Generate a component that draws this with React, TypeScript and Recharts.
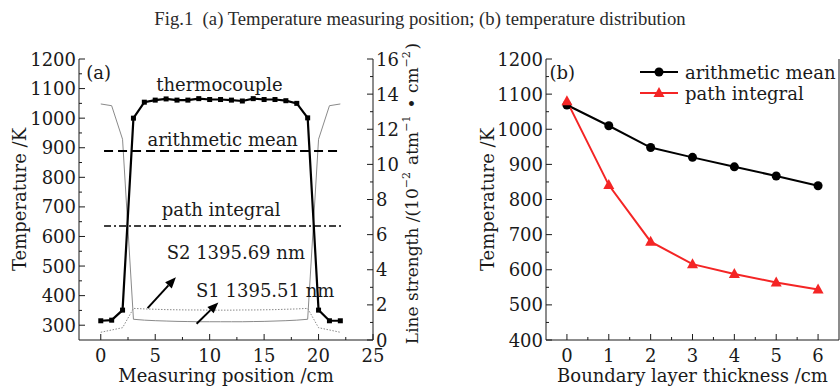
import { LineChart, Line, XAxis, YAxis, ReferenceLine, ReferenceDot } from 'recharts';

// ---- (a) temperature along the measuring path ----
const positionCm = [0, 1, 2, 3, 4, 5, 6, 7, 8, 9, 10, 11, 12, 13, 14, 15, 16, 17, 18, 19, 20, 21, 22];
const thermocouple = [315, 317, 351, 1000, 1054, 1061, 1065, 1061, 1061, 1066, 1063, 1063, 1061, 1058, 1066, 1063, 1063, 1059, 1050, 1001, 351, 315, 315];
const s1Strength = [13.44, 13.34, 11.43, 1.18, 1.13, 1.1, 1.08, 1.06, 1.05, 1.04, 1.04, 1.04, 1.04, 1.04, 1.05, 1.06, 1.08, 1.1, 1.13, 1.18, 11.43, 13.34, 13.44];
const s2Strength = [0.44, 0.57, 0.7, 1.8, 1.77, 1.75, 1.73, 1.72, 1.71, 1.71, 1.7, 1.7, 1.7, 1.71, 1.71, 1.72, 1.73, 1.75, 1.77, 1.8, 0.7, 0.57, 0.44];
const meanTempA = 889;
const pathTempA = 635;
const refLineRange = [0.3, 22.1];

const xTicksA = [0, 2.5, 5, 7.5, 10, 12.5, 15, 17.5, 20, 22.5, 25];
const xMajorA = [0, 5, 10, 15, 20, 25];
const tTicksA = [300, 350, 400, 450, 500, 550, 600, 650, 700, 750, 800, 850, 900, 950, 1000, 1050, 1100, 1150, 1200];
const tMajorA = [300, 400, 500, 600, 700, 800, 900, 1000, 1100, 1200];
const sTicksA = [0, 1, 2, 3, 4, 5, 6, 7, 8, 9, 10, 11, 12, 13, 14, 15, 16];
const sMajorA = [0, 2, 4, 6, 8, 10, 12, 14, 16];

// ---- (b) temperature vs boundary layer thickness ----
const thicknessCm = [0, 1, 2, 3, 4, 5, 6];
const arithmeticMean = [1069, 1010, 948, 920, 893, 867, 839];
const pathIntegral = [1080, 841, 680, 616, 588, 564, 544];

const xTicksB = [0, 0.5, 1, 1.5, 2, 2.5, 3, 3.5, 4, 4.5, 5, 5.5, 6];
const xMajorB = [0, 1, 2, 3, 4, 5, 6];
const tTicksB = [400, 450, 500, 550, 600, 650, 700, 750, 800, 850, 900, 950, 1000, 1050, 1100, 1150, 1200];
const tMajorB = [400, 500, 600, 700, 800, 900, 1000, 1100, 1200];

const dataA = positionCm.map((x, i) => ({ x, tc: thermocouple[i], s1: s1Strength[i], s2: s2Strength[i] }));
const dataB = thicknessCm.map((x, i) => ({ x, mean: arithmeticMean[i], path: pathIntegral[i] }));

const FONT = '"DejaVu Serif", serif';
const INK = '#1a1a1a';
const RED = '#f42525';
const GAP = 4;
const FS = 18;

function makeTick(side: 'bottom' | 'left' | 'right', majors: number[]) {
  return (props: any) => {
    const { x, y, payload } = props;
    const v = payload.value;
    const major = majors.includes(v);
    const len = major ? 6 : 3;
    if (side === 'bottom') {
      const ay = y - GAP;
      return (
        <g>
          <line x1={x} x2={x} y1={ay} y2={ay - len} stroke={INK} strokeWidth={1} />
          {major && (
            <text x={x} y={ay + 22} textAnchor="middle" fontSize={FS} fontFamily={FONT} fill={INK}>{v}</text>
          )}
        </g>
      );
    }
    if (side === 'left') {
      const ax = x + GAP;
      return (
        <g>
          <line x1={ax} x2={ax + len} y1={y} y2={y} stroke={INK} strokeWidth={1} />
          {major && (
            <text x={ax - 3} y={y + 6.5} textAnchor="end" fontSize={FS} fontFamily={FONT} fill={INK}>{v}</text>
          )}
        </g>
      );
    }
    const ax = x - GAP;
    return (
      <g>
        <line x1={ax} x2={ax - len} y1={y} y2={y} stroke={INK} strokeWidth={1} />
        {major && (
          <text x={ax + 3} y={y + 6.5} textAnchor="start" fontSize={FS} fontFamily={FONT} fill={INK}>{v}</text>
        )}
      </g>
    );
  };
}

const xLabel = (text: string) => (props: any) => {
  const vb = props.viewBox;
  return (
    <text x={vb.x + vb.width / 2} y={vb.y + 42} textAnchor="middle" fontSize={FS} fontFamily={FONT} fill={INK}>{text}</text>
  );
};

const yLabelLeft = (text: string, dx: number) => (props: any) => {
  const vb = props.viewBox;
  const cx = vb.x + dx;
  const cy = vb.y + vb.height / 2;
  return (
    <text x={cx} y={cy} transform={`rotate(-90 ${cx} ${cy})`} textAnchor="middle" dominantBaseline="central"
      fontSize={FS} fontFamily={FONT} fill={INK}>{text}</text>
  );
};

const strengthLabel = (props: any) => {
  const vb = props.viewBox;
  const cx = vb.x + 39;
  const cy = vb.y + vb.height / 2 - 6;
  const sup = (s: string) => [
    <tspan key={s + 'a'} dy={-6} fontSize={11}>{s}</tspan>,
    <tspan key={s + 'b'} dy={6}>{'\u200a'}</tspan>,
  ];
  return (
    <text x={cx} y={cy} transform={`rotate(-90 ${cx} ${cy})`} textAnchor="middle" dominantBaseline="central"
      fontSize={17} fontFamily={FONT} fill={INK}>
      <tspan>Line strength /(10</tspan>
      {sup('−2')}
      <tspan> atm</tspan>
      {sup('−1')}
      <tspan> • cm</tspan>
      {sup('−2')}
      <tspan>)</tspan>
    </text>
  );
};

const Arrow = (props: any) => {
  const { x1, y1, x2, y2 } = props;
  const ang = Math.atan2(y2 - y1, x2 - x1);
  const hl = 11;
  const hw = 4.5;
  const bx = x2 - hl * Math.cos(ang);
  const by = y2 - hl * Math.sin(ang);
  const px = -Math.sin(ang) * hw;
  const py = Math.cos(ang) * hw;
  return (
    <g>
      <line x1={x1} y1={y1} x2={bx} y2={by} stroke="#000" strokeWidth={2} />
      <polygon points={`${x2},${y2} ${bx + px},${by + py} ${bx - px},${by - py}`} fill="#000" />
    </g>
  );
};

const Square = (props: any) => {
  const { cx, cy, index } = props;
  return <rect key={`sq-${index}`} x={cx - 2.5} y={cy - 2.5} width={5} height={5} fill="#000" />;
};

const Triangle = (props: any) => {
  const { cx, cy, index } = props;
  return <polygon key={`tri-${index}`} points={`${cx},${cy - 6} ${cx - 5.5},${cy + 4} ${cx + 5.5},${cy + 4}`} fill={RED} />;
};

const note = (value: string, size = FS) => ({ value, position: 'center' as const, fontSize: size, fontFamily: FONT, fill: INK });

function PanelA() {
  return (
    <LineChart width={432} height={386} data={dataA} margin={{ top: 59, right: 0, bottom: 0, left: 0 }}>
      <XAxis dataKey="x" type="number" domain={[-2, 25]} ticks={xTicksA} interval={0} allowDataOverflow
        stroke={INK} tickLine={false} tickSize={0} tickMargin={GAP} height={46}
        tick={makeTick('bottom', xMajorA)} label={xLabel('Measuring position /cm')} />
      <XAxis xAxisId="top" orientation="top" type="number" domain={[-2, 25]} height={0} tick={false} tickLine={false} stroke={INK} />
      <YAxis yAxisId="t" type="number" domain={[250, 1200]} ticks={tTicksA} interval={0} allowDataOverflow
        width={79} stroke={INK} tickLine={false} tickSize={0} tickMargin={GAP}
        tick={makeTick('left', tMajorA)} label={yLabelLeft('Temperature /K', 19)} />
      <YAxis yAxisId="s" orientation="right" type="number" domain={[0, 16]} ticks={sTicksA} interval={0} allowDataOverflow
        width={59} stroke={INK} tickLine={false} tickSize={0} tickMargin={GAP}
        tick={makeTick('right', sMajorA)} label={strengthLabel} />

      <Line yAxisId="s" dataKey="s1" stroke="#8a8a8a" strokeWidth={1} dot={false} isAnimationActive={false} />
      <Line yAxisId="s" dataKey="s2" stroke="#8a8a8a" strokeWidth={1} strokeDasharray="1.5 1.5" dot={false} isAnimationActive={false} />
      <Line yAxisId="t" dataKey="tc" stroke="#000" strokeWidth={2.2} dot={Square} isAnimationActive={false} />

      <ReferenceLine yAxisId="t" segment={[{ x: refLineRange[0], y: meanTempA }, { x: refLineRange[1], y: meanTempA }]}
        stroke="#000" strokeWidth={2} strokeDasharray="9 5" />
      <ReferenceLine yAxisId="t" segment={[{ x: refLineRange[0], y: pathTempA }, { x: refLineRange[1], y: pathTempA }]}
        stroke="#000" strokeWidth={1.5} strokeDasharray="7 3 2 3" />

      <ReferenceLine yAxisId="t" segment={[{ x: 4.3, y: 358 }, { x: 6.9, y: 462 }]} shape={Arrow} />
      <ReferenceLine yAxisId="t" segment={[{ x: 8.8, y: 305 }, { x: 10.8, y: 377 }]} shape={Arrow} />

      <ReferenceDot yAxisId="t" x={-0.2} y={1153} r={0} fill="none" stroke="none" label={note('(a)')} />
      <ReferenceDot yAxisId="t" x={10.9} y={1114} r={0} fill="none" stroke="none" label={note('thermocouple')} />
      <ReferenceDot yAxisId="t" x={11.2} y={929} r={0} fill="none" stroke="none" label={note('arithmetic mean')} />
      <ReferenceDot yAxisId="t" x={11.05} y={690} r={0} fill="none" stroke="none" label={note('path integral')} />
      <ReferenceDot yAxisId="t" x={12.4} y={544} r={0} fill="none" stroke="none" label={note('S2 1395.69 nm')} />
      <ReferenceDot yAxisId="t" x={15.1} y={416} r={0} fill="none" stroke="none" label={note('S1 1395.51 nm')} />
    </LineChart>
  );
}

function PanelB() {
  return (
    <LineChart width={420} height={386} data={dataB} margin={{ top: 59, right: 0, bottom: 0, left: 0 }}>
      <XAxis dataKey="x" type="number" domain={[-0.5, 6.5]} ticks={xTicksB} interval={0} allowDataOverflow
        stroke={INK} tickLine={false} tickSize={0} tickMargin={GAP} height={46}
        tick={makeTick('bottom', xMajorB)} label={xLabel('Boundary layer thickness /cm')} />
      <XAxis xAxisId="top" orientation="top" type="number" domain={[-0.5, 6.5]} height={0} tick={false} tickLine={false} stroke={INK} />
      <YAxis type="number" domain={[400, 1200]} ticks={tTicksB} interval={0} allowDataOverflow
        width={126} stroke={INK} tickLine={false} tickSize={0} tickMargin={GAP}
        tick={makeTick('left', tMajorB)} label={yLabelLeft('Temperature /K', 67)} />
      <YAxis yAxisId="r" orientation="right" type="number" domain={[400, 1200]} width={1} tick={false} tickLine={false} stroke={INK} />

      <Line dataKey="mean" stroke="#000" strokeWidth={2} dot={{ r: 4.5, fill: '#000', stroke: '#000', strokeWidth: 0 }} isAnimationActive={false} />
      <Line dataKey="path" stroke={RED} strokeWidth={2} dot={Triangle} isAnimationActive={false} />

      <ReferenceDot x={-0.11} y={1160} r={0} fill="none" stroke="none" label={note('(b)')} />
    </LineChart>
  );
}

function LegendB() {
  const rows = [
    { name: 'arithmetic mean', color: '#000', tri: false },
    { name: 'path integral', color: RED, tri: true },
  ];
  return (
    <svg width={202} height={46} style={{ position: 'absolute', left: 638, top: 60 }}>
      {rows.map((r, i) => {
        const cy = 12 + i * 21;
        return (
          <g key={r.name}>
            <line x1={2} x2={40} y1={cy} y2={cy} stroke={r.color} strokeWidth={2} />
            {r.tri
              ? <polygon points={`21,${cy - 6} 15.5,${cy + 4} 26.5,${cy + 4}`} fill={r.color} />
              : <circle cx={21} cy={cy} r={4.5} fill={r.color} />}
            <text x={47} y={cy + 6.5} fontSize={FS} fontFamily={FONT} fill={INK}>{r.name}</text>
          </g>
        );
      })}
    </svg>
  );
}

export default function App() {
  return (
    <div style={{ position: 'absolute', left: 0, top: 0, width: 840, height: 386, background: '#fff', overflow: 'hidden' }}>
      <div style={{ position: 'absolute', left: 0, top: 0 }}>
        <PanelA />
      </div>
      <div style={{ position: 'absolute', left: 420, top: 0 }}>
        <PanelB />
      </div>
      <LegendB />
      <div style={{
        position: 'absolute', left: 0, top: 8, width: 840, textAlign: 'center',
        fontFamily: '"Liberation Serif", serif', fontSize: 18.7, color: '#2a2a2a', whiteSpace: 'pre',
      }}>
        {'Fig.1  (a) Temperature measuring position; (b) temperature distribution'}
      </div>
    </div>
  );
}
